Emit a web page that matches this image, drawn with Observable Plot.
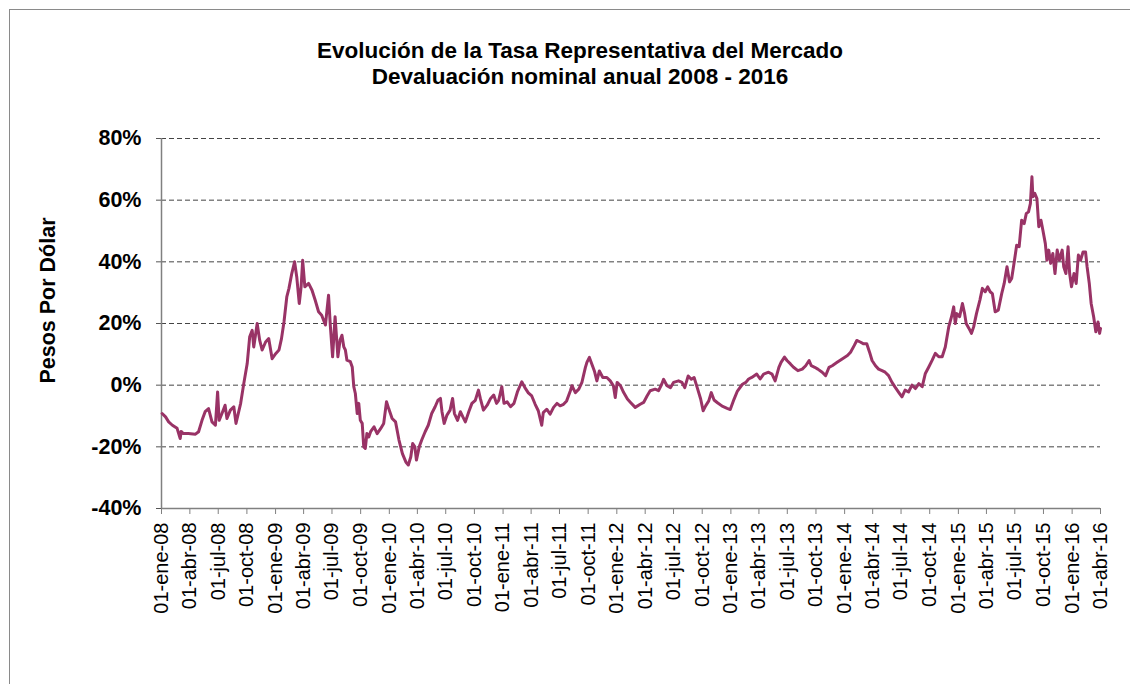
<!DOCTYPE html>
<html>
<head>
<meta charset="utf-8">
<script src="https://cdn.jsdelivr.net/npm/d3@7"></script>
<script src="https://cdn.jsdelivr.net/npm/@observablehq/plot@0.6"></script>
<style>
  html, body { margin: 0; padding: 0; background: #fff; }
  #wrap { position: relative; width: 1135px; height: 684px; overflow: hidden; font-family: "Liberation Sans", Arial, sans-serif; }
  #frame { position: absolute; left: 9px; top: 9px; width: 1120px; height: 700px; border-top: 1.5px solid #8a8a8a; border-left: 1.5px solid #8a8a8a; }
  #title { position: absolute; left: 0; top: 38px; width: 1160px; text-align: center; font-weight: bold; font-size: 22.5px; line-height: 26px; color: #000; }
  #chart { position: absolute; left: 0; top: 0; }
</style>
</head>
<body>
<div id="wrap">
  <div id="frame"></div>
  <div id="chart"></div>
  <div id="title">Evolución de la Tasa Representativa del Mercado<br>Devaluación nominal anual 2008 - 2016</div>
</div>
<script>
const dates = [
"2008-01-03","2008-01-14","2008-01-24","2008-02-05","2008-02-20","2008-03-01","2008-03-04","2008-03-11","2008-03-27","2008-04-19",
"2008-04-29","2008-05-10","2008-05-20","2008-05-31","2008-06-11","2008-06-22","2008-06-29","2008-07-04","2008-07-13","2008-07-23",
"2008-07-29","2008-08-09","2008-08-20","2008-08-27","2008-09-11","2008-09-21","2008-10-02","2008-10-10","2008-10-18","2008-10-23",
"2008-11-03","2008-11-11","2008-11-19","2008-11-30","2008-12-10","2008-12-21","2009-01-02","2009-01-12","2009-01-20","2009-01-28",
"2009-02-06","2009-02-13","2009-02-22","2009-03-03","2009-03-10","2009-03-18","2009-03-24","2009-03-29","2009-04-05","2009-04-17",
"2009-04-28","2009-05-08","2009-05-19","2009-05-29","2009-06-10","2009-06-20","2009-06-26","2009-07-03","2009-07-11","2009-07-20",
"2009-07-27","2009-08-02","2009-08-08","2009-08-13","2009-08-18","2009-08-29","2009-09-04","2009-09-09","2009-09-14","2009-09-20",
"2009-09-25","2009-09-30","2009-10-06","2009-10-11","2009-10-16","2009-10-21","2009-10-27","2009-11-02","2009-11-13","2009-11-23",
"2009-12-04","2009-12-14","2009-12-23","2009-12-30","2010-01-10","2010-01-21","2010-02-01","2010-02-12","2010-02-23","2010-03-03",
"2010-03-11","2010-03-17","2010-03-24","2010-03-29","2010-04-07","2010-04-15","2010-04-26","2010-05-06","2010-05-17","2010-05-28",
"2010-06-06","2010-06-14","2010-06-19","2010-06-26","2010-07-05","2010-07-15","2010-07-23","2010-07-29","2010-08-08","2010-08-17",
"2010-08-25","2010-09-02","2010-09-13","2010-09-23","2010-10-04","2010-10-14","2010-10-20","2010-10-30","2010-11-11","2010-11-22",
"2010-12-02","2010-12-11","2010-12-18","2010-12-28","2011-01-04","2011-01-14","2011-01-25","2011-02-05","2011-02-16","2011-03-02",
"2011-03-12","2011-03-23","2011-04-03","2011-04-14","2011-04-24","2011-05-05","2011-05-10","2011-05-21","2011-06-01","2011-06-12",
"2011-06-23","2011-07-03","2011-07-14","2011-07-24","2011-08-05","2011-08-10","2011-08-21","2011-09-01","2011-09-11","2011-09-22",
"2011-09-27","2011-10-05","2011-10-13","2011-10-21","2011-10-29","2011-11-06","2011-11-17","2011-11-30","2011-12-11","2011-12-21",
"2011-12-27","2012-01-02","2012-01-13","2012-01-23","2012-02-04","2012-02-14","2012-02-29","2012-03-16","2012-03-27","2012-04-07",
"2012-04-17","2012-05-03","2012-05-14","2012-05-24","2012-05-30","2012-06-10","2012-06-21","2012-07-01","2012-07-17","2012-07-28",
"2012-08-06","2012-08-17","2012-08-27","2012-09-05","2012-09-15","2012-09-26","2012-10-04","2012-10-12","2012-10-22","2012-10-30",
"2012-11-08","2012-11-19","2012-12-04","2012-12-20","2012-12-30","2013-01-11","2013-01-22","2013-02-07","2013-02-18","2013-02-27",
"2013-03-09","2013-03-25","2013-04-05","2013-04-16","2013-05-02","2013-05-13","2013-05-23","2013-06-04","2013-06-11","2013-06-22",
"2013-06-30","2013-07-11","2013-07-21","2013-08-04","2013-08-18","2013-08-29","2013-09-09","2013-09-16","2013-09-27","2013-10-07",
"2013-10-21","2013-11-01","2013-11-12","2013-11-22","2013-12-08","2013-12-24","2014-01-10","2014-01-20","2014-02-01","2014-02-09",
"2014-02-20","2014-03-03","2014-03-13","2014-03-22","2014-03-30","2014-04-10","2014-04-20","2014-05-01","2014-05-11","2014-05-22",
"2014-06-02","2014-06-13","2014-06-24","2014-07-04","2014-07-14","2014-07-25","2014-08-05","2014-08-16","2014-08-27","2014-09-07",
"2014-09-17","2014-09-28","2014-10-09","2014-10-19","2014-10-30","2014-11-10","2014-11-20","2014-12-01","2014-12-10","2014-12-17",
"2014-12-22","2014-12-27","2015-01-05","2015-01-14","2015-01-21","2015-01-26","2015-02-04","2015-02-12","2015-02-19","2015-02-28",
"2015-03-11","2015-03-19","2015-03-28","2015-04-05","2015-04-13","2015-04-20","2015-04-29","2015-05-09","2015-05-20","2015-05-28",
"2015-06-06","2015-06-14","2015-06-21","2015-06-30","2015-07-07","2015-07-15","2015-07-23","2015-07-31","2015-08-07","2015-08-14",
"2015-08-20","2015-08-25","2015-08-28","2015-09-03","2015-09-10","2015-09-16","2015-09-23","2015-09-29","2015-10-07","2015-10-12",
"2015-10-18","2015-10-24","2015-10-31","2015-11-07","2015-11-14","2015-11-21","2015-11-30","2015-12-05","2015-12-12","2015-12-19",
"2015-12-24","2015-12-30","2016-01-07","2016-01-14","2016-01-21","2016-01-28","2016-02-05","2016-02-13","2016-02-18","2016-02-25",
"2016-03-02","2016-03-10","2016-03-17","2016-03-24","2016-03-29","2016-04-01"
];
const values = [
-9.2,-10.3,-11.9,-13,-14,-17.3,-15,-15.7,-15.7,-15.9,
-15.1,-11.4,-8.6,-7.6,-11.9,-13,-2.2,-11.4,-9.2,-6.5,
-10.8,-8.1,-7,-12.4,-5.9,0.5,7,15.7,17.8,12.4,
20,14.6,11.4,14,15.1,8.6,10.3,11.4,15.1,20.5,
28.6,31.4,36.2,40,35.1,26.5,31.9,40.5,31.9,33,
30.8,27.6,23.8,22.7,19.5,29.2,18.9,9.2,22.2,9.2,
14.6,16.2,12.4,11.4,8.1,7.6,5.9,-0.5,-2.7,-9.2,
-5.9,-11.4,-12.4,-20,-20.5,-15.7,-16.8,-15.1,-13.5,-15.7,
-14.1,-12.4,-5.4,-7.6,-10.8,-11.9,-17.8,-22.2,-24.9,-25.9,
-23.2,-18.9,-20,-24.3,-20,-17.8,-15.1,-13,-9.2,-7,
-4.9,-4.3,-8.6,-12.4,-9.7,-8.1,-4.3,-9.2,-11.4,-8.6,
-10.3,-11.9,-8.6,-5.9,-4.9,-1.6,-4.3,-8.1,-6.5,-4.3,
-3.2,-5.9,-4.9,-0.5,-5.9,-5.4,-7,-5.9,-2.2,1.1,
-0.8,-2.5,-3.5,-6.2,-8.3,-13,-8.9,-7.8,-9.4,-7.2,
-5.9,-6.7,-6.2,-5.1,-1.8,-0.2,-2.4,-1.3,0.9,5.7,
7.4,9.0,6.8,4.6,1.4,4.6,2.5,2.5,1.4,-0.2,
-4.0,0.9,-0.2,-2.4,-4.5,-5.6,-7.2,-6.2,-5.6,-3.5,
-1.8,-1.3,-1.8,0.3,1.9,-0.2,-0.8,0.9,1.4,0.9,
-0.8,3.0,1.9,2.5,-0.8,-4.5,-8.3,-6.7,-5.1,-2.4,
-4.8,-5.7,-6.8,-7.5,-7.9,-4.6,-1.9,0.3,0.9,2.0,
2.5,3.6,2.0,3.6,4.2,3.6,1.4,5.8,7.4,9.1,
8.0,6.9,5.8,4.7,5.2,6.3,8.0,6.3,5.8,5.2,
4.2,3.1,5.8,6.3,7.4,8.5,9.6,10.7,12.9,14.5,
14.0,13.4,13.4,10.7,8.0,6.3,5.2,4.7,4.2,3.1,
0.9,-0.8,-2.4,-3.8,-1.6,-2.2,0,-1.1,0.5,-0.5,
3.8,5.9,8.1,10.3,9.2,9.2,12.4,18.9,22.2,25.4,
20.0,23.2,22.2,26.5,23.2,20,18.4,16.8,18.9,23.2,
27.6,31.4,30.3,31.9,30.3,29.7,23.8,24.3,29.7,33.0,
38.4,33.5,34.6,40.5,45.4,44.9,53.5,52.4,55.7,56.2,
58.9,67.6,61.1,62.2,60.5,51.4,53.5,50.3,45.9,40.5,
43.8,39.5,42.7,36.2,43.8,40.5,43.8,38.4,36.2,44.9,
36.2,31.9,36.2,33.0,42.2,40.5,43.2,43.2,38.4,33.0,
26.5,22.2,17.3,20.5,16.8,18.4
];
const yTicks = [-40, -20, 0, 20, 40, 60, 80];
const monthAbbr = ["ene", "abr", "jul", "oct"];
const xStart = "2008-01-01";
const xEnd = "2016-04-01";

const parse = d3.utcParse("%Y-%m-%d");
const data = dates.map((d, i) => ({date: parse(d), value: values[i]}));
const x0 = parse(xStart), x1 = parse(xEnd);
const tickDates = d3.utcMonth.every(3).range(x0, d3.utcDay.offset(x1, 1));
const fmt = d => "01-" + monthAbbr[Math.floor(d.getUTCMonth() / 3)] + "-" + String(d.getUTCFullYear() % 100).padStart(2, "0");

const chart = Plot.plot({
  width: 1135,
  height: 684,
  marginTop: 138,
  marginBottom: 176,
  marginLeft: 161,
  marginRight: 35,
  style: {fontFamily: "'Liberation Sans', Arial, sans-serif", background: "transparent", color: "#000"},
  x: {type: "utc", domain: [x0, x1]},
  y: {domain: [-40, 80]},
  marks: [
    Plot.ruleY(yTicks.filter(d => d > -40), {stroke: "#444", strokeWidth: 1, strokeDasharray: "5,3"}),
    Plot.axisY({ticks: yTicks, tickFormat: d => d + "%", tickSize: 7, tickPadding: 13, fontSize: 21.5, fontWeight: "bold", stroke: "#555", strokeDasharray: "5,3", label: null}),
    Plot.axisX({ticks: tickDates, tickFormat: fmt, tickRotate: -90, tickSize: 6, tickPadding: 8, fontSize: 20, stroke: "#808080", label: null}),
    Plot.ruleX([x0], {stroke: "#808080", strokeWidth: 1.5}),
    Plot.ruleY([-40], {stroke: "#808080", strokeWidth: 1.5}),
    Plot.line(data, {x: "date", y: "value", stroke: "#993366", strokeWidth: 3}),
    Plot.text(["Pesos Por Dólar"], {frameAnchor: "left", rotate: -90, textAnchor: "middle", dx: -113, dy: -23, fontSize: 21.5, fontWeight: "bold", fill: "#000"})
  ]
});
document.getElementById("chart").appendChild(chart);
</script>
</body>
</html>
